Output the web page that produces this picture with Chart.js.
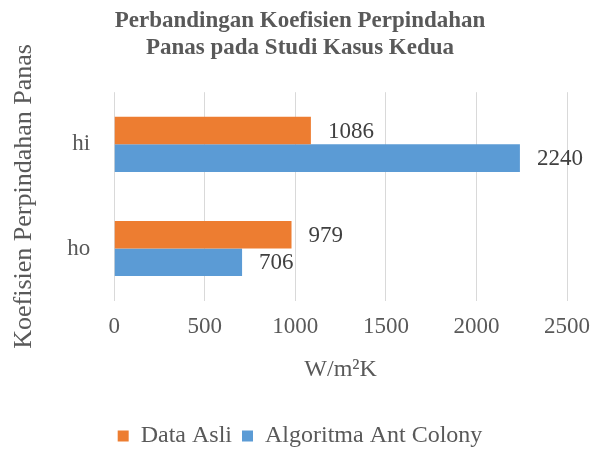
<!DOCTYPE html>
<html>
<head>
<meta charset="utf-8">
<script src="https://cdn.jsdelivr.net/npm/chart.js@4"></script>
<style>
  html, body { margin: 0; padding: 0; background: #fff; }
  #wrap { width: 603px; height: 450px; }
</style>
</head>
<body>
<div id="wrap"><canvas id="chart"></canvas></div>
<script>
// data
const categories = ['hi', 'ho'];
const dataAsli = [1086, 979];
const antColony = [2240, 706];
const seriesNames = ['Data Asli', 'Algoritma Ant Colony'];

const serif = "'Liberation Serif', 'Times New Roman', serif";
const textColor = '#595959';

// value labels at bar ends
const barLabels = {
    id: 'barLabels',
    afterDatasetsDraw(chart) {
        const ctx = chart.ctx;
        ctx.save();
        ctx.font = '23px ' + serif;
        ctx.fillStyle = '#404040';
        ctx.textAlign = 'left';
        ctx.textBaseline = 'middle';
        chart.data.datasets.forEach((ds, i) => {
            chart.getDatasetMeta(i).data.forEach((bar, j) => {
                ctx.fillText(String(ds.data[j]), bar.x + 17, bar.y + 1);
            });
        });
        ctx.restore();
    }
};

new Chart(document.getElementById('chart'), {
    type: 'bar',
    data: {
        labels: categories,
        datasets: [{
            label: seriesNames[0],
            data: dataAsli,
            backgroundColor: '#ED7D31',
            borderWidth: 0,
        }, {
            label: seriesNames[1],
            data: antColony,
            backgroundColor: '#5B9BD5',
            borderWidth: 0,
        }],
    },
    options: {
        indexAxis: 'y',
        responsive: true,
        maintainAspectRatio: false,
        animation: false,
        layout: { padding: { left: 9, right: 12, top: 5, bottom: -8 } },
        datasets: { bar: { categoryPercentage: 0.53, barPercentage: 1 } },
        plugins: {
            title: {
                display: true,
                text: ['Perbandingan Koefisien Perpindahan', 'Panas pada Studi Kasus Kedua'],
                color: textColor,
                font: { family: serif, size: 23, weight: 'bold' },
                padding: { top: 2, bottom: 30 },
                lineHeight: 1.32,
            },
            legend: {
                position: 'bottom',
                labels: {
                    color: textColor,
                    font: { family: serif, size: 24 },
                    boxWidth: 11,
                    boxHeight: 11,
                    padding: 10,
                },
            },
            tooltip: { enabled: false },
        },
        scales: {
            x: {
                min: 0,
                max: 2500,
                ticks: {
                    stepSize: 500,
                    color: textColor,
                    font: { family: serif, size: 23 },
                    padding: 13,
                    callback: v => String(v),
                },
                grid: { color: '#d9d9d9', drawTicks: false },
                border: { display: false },
                title: {
                    display: true,
                    text: 'W/m²K',
                    color: textColor,
                    font: { family: serif, size: 24 },
                    padding: { top: 1, bottom: 30 },
                },
            },
            y: {
                ticks: {
                    color: textColor,
                    font: { family: serif, size: 23 },
                    padding: 16,
                },
                grid: { display: false },
                border: { display: false },
                title: {
                    display: true,
                    text: 'Koefisien Perpindahan Panas',
                    color: textColor,
                    font: { family: serif, size: 26 },
                    padding: { top: 0, bottom: 11 },
                },
            },
        },
    },
    plugins: [barLabels],
});
</script>
</body>
</html>
